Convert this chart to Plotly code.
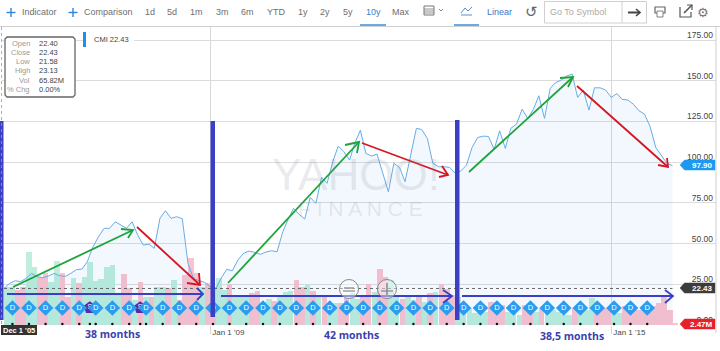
import pandas as pd
import plotly.graph_objects as go

W, H = 720, 351
L, R, T, B = 2, 716, 27, 325

start_month = "2005-12-01"
price_close = [22.4,25.6,27.2,26.6,28.7,31.7,29.7,29.1,30.1,31.7,
 30.3,29.9,31.7,34,34.4,38.9,48,54.2,59.4,59.4,
 63.4,61.4,59.4,63.4,55.3,49.1,49.7,47.1,65.5,70.2,
 65.5,66.5,65.3,37.9,28.7,27.2,26.2,23.5,22.5,28.7,
 34.2,33.3,39.9,44,45.4,44.6,43.4,44.8,45.6,45,
 57.3,64.5,71.7,68,65.1,78.4,74.7,90.7,87,100.3,
 109.9,106.4,101.3,111.5,119.7,105.4,103.8,105,93.1,81.8,
 99.3,96.8,88,105.4,120.8,120.1,114.6,99.3,97.2,97.2,
 96.8,93.1,94.7,98.2,109,115.2,116,115.8,107.9,119.3,
 108.5,120.8,123.4,132.6,126.9,132.4,140.8,126.9,145.3,148.8,
 150.4,152.9,154.1,139.8,144.3,132,145.7,145.7,144.3,139.8,
 142.2,138.6,138.2,135.7,131.6,129.6,121.8,109,104.4,99.3,
 97.9]
volume_m = [66,66,61,66,126,100,83,90,74,111,
 90,48,81,73,83,109,76,80,100,104,
 52,88,64,43,74,48,48,66,66,64,
 78,43,87,116,90,66,73,66,81,61,
 71,48,48,48,55,59,40,45,42,48,
 57,59,78,66,71,59,48,48,38,38,
 38,47,55,45,48,71,57,97,83,78,
 48,45,48,43,48,40,55,57,71,62,
 52,48,38,29,21,22,22,40,38,35,
 22,22,17,35,35,22,29,22,26,22,
 17,17,29,22,26,47,29,29,29,21,
 21,33,33,26,26,33,33,38,48,26,
 2.47]
# month-by-month colour of the volume bar: u = green, d = pink
direction = ("uudduudduu" "dduduuuuuu" "uddududuud" "uddddudduu"
             "duuudduudu" "uuddududuu" "dduuddud" "du" "uduudududd"
             "duuuuuuddd" "uuudduduuu" "uuduuudddu" "uddddddddd" "d")

months = pd.date_range(start_month, periods=len(price_close), freq="MS")
dividend_dates = pd.date_range("2006-01-16", periods=39, freq=pd.DateOffset(months=3))
split_dates = ["2007-03-15", "2007-12-15"]
GREEN_BAR, PINK_BAR = "#bfefdc", "#fcc2ce"
bar_colors = [GREEN_BAR if c == "u" else PINK_BAR for c in direction]

y_ticks = [0, 25, 50, 75, 100, 125, 150, 175]
y_labels = ["0.00", "25.00", "50.00", "75.00", "100.00", "125.00", "150.00", "175.00"]
x_ticks = ["2009-01-01", "2015-01-01"]
x_labels = ["Jan 1 '09", "Jan 1 '15"]
ohlc_names = ["Open", "Close", "Low", "High", "Vol", "% Chg"]
ohlc_values = ["22.40", "22.43", "21.58", "23.13", "65.82M", "0.00%"]

PX_PER_PRICE = 40.7 / 25
price_top = (B - T) / PX_PER_PRICE
BLUE = "#3a3fc4"

def X(p): return (p - L) / (R - L)
def Y(p): return (B - p) / (B - T)

shapes, anns = [], []
def path(points, color, width=1.0, fill=None, close=False, layer="above"):
    d = "M " + " L ".join(f"{X(a):.5f},{Y(b):.5f}" for a, b in points) + (" Z" if close else "")
    s = dict(type="path", xref="paper", yref="paper", path=d, layer=layer,
             line=dict(color=color, width=width))
    if fill: s["fillcolor"] = fill
    shapes.append(s)
def rect(x0, y0, x1, y1, color=None, fill=None, width=1.0, layer="above"):
    shapes.append(dict(type="rect", xref="paper", yref="paper", x0=X(x0), x1=X(x1), y0=Y(y0), y1=Y(y1),
                       layer=layer, line=dict(color=color or "rgba(0,0,0,0)", width=width),
                       fillcolor=fill or "rgba(0,0,0,0)"))
def text(x, y, t, size=9, color="#555", anchor="center", family="Liberation Sans", bold=False, bg=None):
    anns.append(dict(xref="paper", yref="paper", x=X(x), y=Y(y), text=f"<b>{t}</b>" if bold else t,
                     showarrow=False, xanchor=anchor, yanchor="middle",
                     font=dict(size=size, color=color, family=family),
                     bgcolor=bg, borderpad=0))

# watermark
text(356, 175, "YAHOO!", 44, "rgba(120,130,150,0.17)")
text(360, 208, "F I N A N C E", 21, "rgba(120,130,150,0.17)")

# hand-drawn period markers
for x0, y0, x1, y1 in [(0, 121, 3.5, 320), (210.5, 121, 215, 317), (455, 120, 459.5, 320)]:
    rect(x0, y0, x1, y1, fill=BLUE)
def arrow(a, b, h1, h2, color, w=1.8):
    path([a, b], color, w)
    path([h1, b, h2], color, w)
GR, RD = "#1da33a", "#d8141f"
arrow((13, 287), (133, 230), (121, 229), (128, 238), GR)
arrow((137, 227), (200, 285), (187, 283), (199, 273), RD)
arrow((7, 294), (203, 294), (197, 288), (197, 300), BLUE)
arrow((228, 283), (359, 142), (345, 145), (357, 153), GR)
arrow((362, 143), (448, 175), (442, 166), (439, 177), RD)
arrow((221, 296), (452, 296), (443, 290), (443, 303), BLUE)
arrow((469, 172), (573, 77), (560, 78), (568, 87), GR)
arrow((577, 86), (668, 167), (658, 165), (667, 158), RD)
arrow((462, 296), (673, 296), (665, 290), (665, 303), BLUE)
text(112, 334, "38 months", 10.5, "#3b3fae", family="Open Sans", bold=True)
text(351, 335, "42 months", 10.5, "#3b3fae", family="Open Sans", bold=True)
text(572, 336, "38,5 months", 10.5, "#3b3fae", family="Open Sans", bold=True)

# zoom buttons
for cx in (349, 387):
    shapes.append(dict(type="circle", xref="paper", yref="paper", x0=X(cx-9.5), x1=X(cx+9.5), y0=Y(298.5), y1=Y(279.5),
                       line=dict(color="#888", width=1), fillcolor="rgba(255,255,255,0.45)"))
    path([(cx-6, 291), (cx+6, 291)], "#888", 1.2)
path([(387, 283), (387, 295)], "#888", 1.5)
path([(344, 288), (354, 288)], "#999", 1.5)

# toolbar
path([(0, 26.5), (720, 26.5)], "#cfcfcf", 1)
for x, t in [(150, "1d"), (172, "5d"), (197, "1m"), (222, "3m"), (247, "6m"), (276, "YTD"),
             (303, "1y"), (325, "2y"), (348, "5y"), (401, "Max")]:
    text(x, 12.5, t, 9, "#6e6e6e")
text(373, 12.5, "10y", 9, "#2f7fd0")
text(39.5, 12.5, "Indicator", 9, "#6e6e6e")
text(108, 12.5, "Comparison", 9, "#6e6e6e")
for cx in (11, 73):
    path([(cx-4.5, 12.5), (cx+4.5, 12.5)], "#2f86d8", 1.4)
    path([(cx, 8), (cx, 17)], "#2f86d8", 1.4)
text(499, 12, "Linear", 9, "#3b78c8")
path([(360, 25), (386, 25)], "#2f86d8", 1.4)
path([(454, 25), (479, 25)], "#2f86d8", 1.4)
path([(461, 13), (465, 8), (468, 11), (472, 7)], "#5a8fd0", 1)
path([(461, 15), (472, 15)], "#5a8fd0", 1)
rect(424, 6, 434, 15, color="#777", width=1)
for yy in (9, 11, 13):
    path([(424, yy), (434, yy)], "#777", 0.8)
path([(439, 9), (441, 11), (443, 9)], "#888", 1)
text(531, 12, "↺", 15, "#666", family="DejaVu Sans")
shapes.append(dict(type="rect", xref="paper", yref="paper", x0=X(544.5), x1=X(646.5), y0=Y(23), y1=Y(1.5),
                   line=dict(color="#d0d0d0", width=1), fillcolor="white"))
path([(622, 1.5), (622, 23)], "#d0d0d0", 1)
text(578, 12.5, "Go To Symbol", 9, "#aaa")
path([(628, 12.5), (640, 12.5)], "#444", 2)
path([(636, 9), (640, 12.5), (636, 16)], "#444", 1.6)
rect(655, 7, 665, 13, color="#666", width=1.2)
rect(657, 11, 663, 17, color="#666", width=0.8, fill="white")
path([(680, 7), (680, 17), (691, 17), (691, 12)], "#555", 1.2)
path([(684, 13), (692, 5)], "#555", 1.6)
path([(687, 5), (692, 5), (692, 10)], "#555", 1.2)
text(703, 13, "⚙", 13, "#777", family="DejaVu Sans")

# OHLC box
path([(7, 37), (73, 37), (75, 39), (75, 95), (73, 97), (7, 97), (5, 95), (5, 39)], "#666", 1.3, fill="white", close=True)
for i, (n, v) in enumerate(zip(ohlc_names, ohlc_values)):
    yy = 43 + i * 9.3
    text(31, yy, n, 7.5, "#999", anchor="right")
    text(38, yy, v, 7.5, "#444", anchor="left")

# series tag
rect(83, 32, 134, 47, fill="white")
rect(83, 32, 86, 47, fill="#1e90e8")
text(93, 39.5, "CMI 22.43", 7.5, "#444", anchor="left")

# price tags
def tag(yc, t, color):
    path([(680, yc), (684.5, yc-5), (715, yc-5), (715, yc+5), (684.5, yc+5)], color, 0.5, fill=color, close=True)
    text(714, yc, t, 8, "white", anchor="right", bold=True)
tag(165, "97.90", "#1e98f0")
tag(288, "22.43", "#3c3c3c")
tag(324, "2.47M", "#e8202a")

# date flag
rect(1, 325, 37, 335, fill="#333333")
text(19, 330, "Dec 1 '05", 7.5, "white", bold=True)
path([(R, 27), (R, 333)], "#cfcfcf", 1)
path([(1.5, 27), (1.5, 325)], "#999", 0.8)
shapes[-1]["line"]["dash"] = "dot"

fig = go.Figure()
fig.add_bar(x=months, y=volume_m, yaxis="y", marker=dict(color=bar_colors, line_width=0),
            width=30.44 * 86400000, offset=0, name="Volume")
fig.add_scatter(x=months, y=price_close, yaxis="y2", mode="lines", fill="tozeroy",
                line=dict(color="#68ade6", width=1), fillcolor="rgba(40,140,230,0.06)", name="CMI")
fig.add_scatter(x=[months[0], months[-1]], y=[22.43, 22.43], yaxis="y2", mode="lines",
                line=dict(color="#666", width=1, dash="dot"), name="Last")
fig.add_scatter(x=split_dates, y=[10.6, 10.6], yaxis="y2", mode="markers+text", text=["S", "S"],
                textfont=dict(color="white", size=7), textposition="middle center",
                marker=dict(symbol="pentagon", size=13, color="#5b2aa8"), name="Split")
fig.add_scatter(x=dividend_dates, y=[10.4] * len(dividend_dates), yaxis="y2", mode="markers+text",
                text=["D"] * len(dividend_dates), textfont=dict(color="white", size=7.5, family="Liberation Sans"),
                textposition="middle center",
                marker=dict(symbol="diamond", size=12, color="#2a9df0"), name="Dividend")
fig.add_scatter(x=list(dividend_dates) + split_dates, y=[0.6] * (len(dividend_dates) + 2), yaxis="y2", mode="markers",
                marker=dict(symbol="circle", size=2.5, color="#111"), cliponaxis=False, name="Event")

fig.update_layout(
    width=W, height=H, autosize=False, showlegend=False,
    margin=dict(l=L, r=W - R, t=T, b=H - B, pad=0),
    paper_bgcolor="white", plot_bgcolor="white",
    font=dict(family="Liberation Sans", size=9, color="#444"),
    bargap=0, shapes=shapes, annotations=anns,
    xaxis=dict(type="date", range=["2005-11-20", "2016-07-26"], tickmode="array",
               tickvals=x_ticks, ticktext=x_labels, ticks="outside", ticklen=8, tickcolor="#d8d8d8",
               showgrid=True, gridcolor="#d8d8d8", gridwidth=1, zeroline=False, showline=False,
               ticklabelshift=18, ticklabelstandoff=-9, tickfont=dict(size=8, color="#444")),
    yaxis=dict(range=[0, (B - T) * 1.73], visible=False, showgrid=False, zeroline=False),
    yaxis2=dict(range=[0, price_top], overlaying="y", side="right", tickmode="array",
                tickvals=y_ticks, ticktext=y_labels, ticklabelposition="inside",
                ticks="", showgrid=True, gridcolor="#dcdcdc", gridwidth=1.2, zeroline=False,
                showline=False, ticklabelshift=-5, tickfont=dict(size=8.5, color="#444")),
)
fig.write_html("out.html", config=dict(displayModeBar=False),
               post_script="document.body.style.margin='0';document.body.style.overflow='hidden';")
